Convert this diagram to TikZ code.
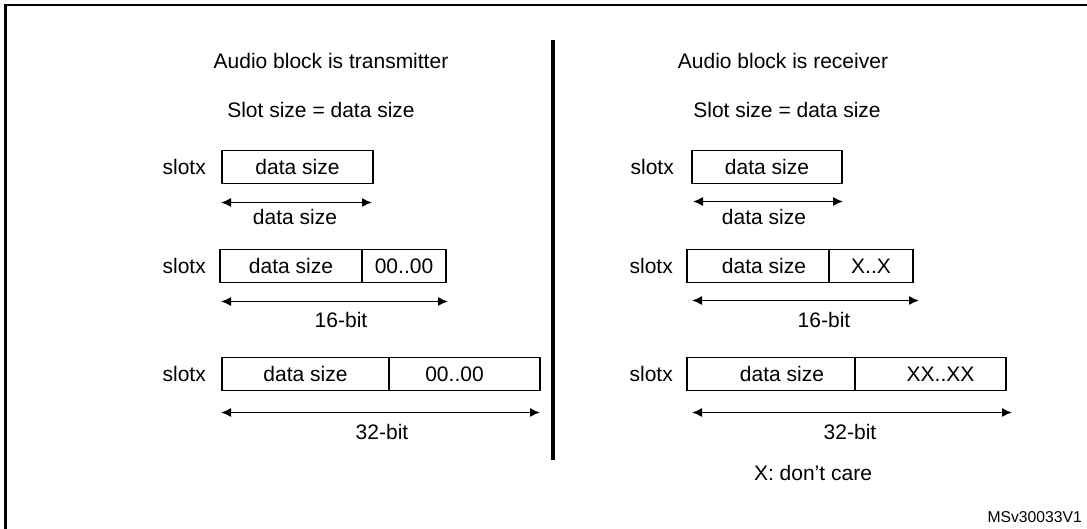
\documentclass[tikz,border=0pt]{standalone}
\usepackage{fontspec}
\setmainfont{Liberation Sans}
\usetikzlibrary{positioning}
\usetikzlibrary{arrows.meta}
\tikzstyle{field}=[draw, line width=1.8pt, minimum height=33pt, outer sep=0pt]
\tikzstyle{size arrow}=[line width=1.4pt, {Latex[length=10pt,width=9pt]}-{Latex[length=10pt,width=9pt]}]
\tikzstyle{rule}=[line width=2.2pt]

\begin{document}
\begin{tikzpicture}[x=1pt, y=-1pt, inner sep=0pt, font=\fontsize{21}{25}\selectfont]
  \useasboundingbox (0,0) rectangle (1087,529);

  % frame and middle separator
  \draw[rule] (5.5,529) -- (5.5,5) -- (1087,5);
  \draw[line width=3.3pt] (553,40) -- (553,460);

  % transmitter side
  \node (txtitle) at (331,61) {Audio block is transmitter};
  \node (txslot) at (321,110) {Slot size = data size};

  \node[field, minimum width=151pt, anchor=west] (tx1) at (222,167) {data size};
  \node[left=16pt of tx1] (tx1name) {slotx};
  \draw[size arrow] ([shift={(-1,19)}]tx1.south west) -- ([shift={(-1,19)}]tx1.south east);
  \node (tx1lab) at (295,217) {data size};

  \node[field, minimum width=142pt, anchor=west] (tx2a) at (220,266) {data size};
  \node[field, minimum width=84pt, right=0pt of tx2a] (tx2b) {00..00};
  \node[left=14pt of tx2a] (tx2name) {slotx};
  \draw[size arrow] ([shift={(1,19)}]tx2a.south west) -- ([shift={(2,19)}]tx2b.south east);
  \node (tx2lab) at (341,320) {16-bit};

  \node[field, minimum width=167pt, anchor=west] (tx3a) at (222,374) {data size};
  \node[field, minimum width=151pt, right=0pt of tx3a] (tx3b) {\hspace*{-20pt}00..00};
  \node[left=16pt of tx3a] (tx3name) {slotx};
  \draw[size arrow] ([shift={(-1,22)}]tx3a.south west) -- ([shift={(0,22)}]tx3b.south east);
  \node (tx3lab) at (382,432) {32-bit};

  % receiver side
  \node (rxtitle) at (783,61) {Audio block is receiver};
  \node (rxslot) at (787,110) {Slot size = data size};

  \node[field, minimum width=150pt, anchor=west] (rx1) at (692,167) {data size};
  \node[left=18pt of rx1] (rx1name) {slotx};
  \draw[size arrow] ([shift={(1,18)}]rx1.south west) -- ([shift={(1,18)}]rx1.south east);
  \node (rx1lab) at (764,217) {data size};

  \node[field, minimum width=142pt, anchor=west] (rx2a) at (687,266) {\hspace*{12pt}data size};
  \node[field, minimum width=84pt, right=0pt of rx2a] (rx2b) {X..X};
  \node[left=14pt of rx2a] (rx2name) {slotx};
  \draw[size arrow] ([shift={(5,18)}]rx2a.south west) -- ([shift={(6,18)}]rx2b.south east);
  \node (rx2lab) at (824,320) {16-bit};

  \node[field, minimum width=168pt, anchor=west] (rx3a) at (687,374) {\hspace*{22pt}data size};
  \node[field, minimum width=151pt, right=0pt of rx3a] (rx3b) {\hspace*{20pt}XX..XX};
  \node[left=14pt of rx3a] (rx3name) {slotx};
  \draw[size arrow] ([shift={(5,22)}]rx3a.south west) -- ([shift={(6,22)}]rx3b.south east);
  \node (rx3lab) at (850,432) {32-bit};

  \node (rxnote) at (813,473) {X: don’t care};
  \node[anchor=east, font=\fontsize{15.7}{18}\selectfont] (figid) at (1082,517) {MSv30033V1};
\end{tikzpicture}
\end{document}
